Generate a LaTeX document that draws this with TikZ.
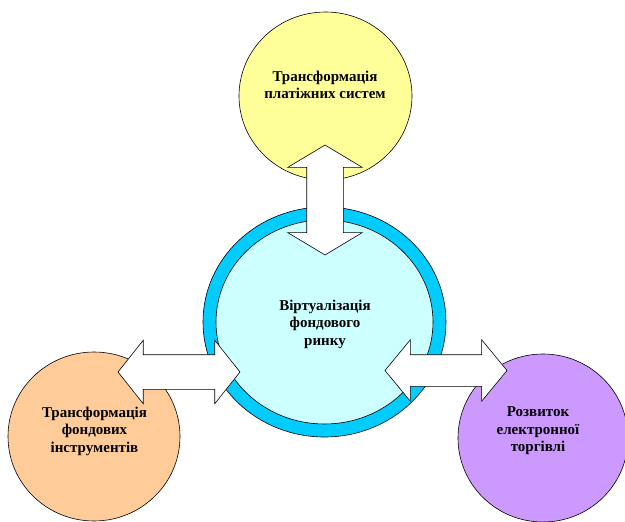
\documentclass[tikz,border=0pt]{standalone}
\usepackage{fontspec}
\setmainfont{Liberation Serif}
\usetikzlibrary{shapes.geometric,shapes.arrows}
\definecolor{payfill}{HTML}{FFFF99}
\definecolor{ringfill}{HTML}{00CCFF}
\definecolor{virtfill}{HTML}{CCFFFF}
\definecolor{instrfill}{HTML}{FFCC99}
\definecolor{tradefill}{HTML}{CC99FF}
\begin{document}
\begin{tikzpicture}[x=1pt,y=-1pt, blob/.style={ellipse,draw,line width=0.6pt,inner sep=0pt},
    txt/.style={align=center,font=\fontsize{15}{17.5}\selectfont\bfseries},
    dbl/.style={double arrow,draw,fill=white,line width=0.6pt,inner xsep=0pt}]
              \useasboundingbox (0,0) rectangle (625,522);
              % circles
              \node[blob,fill=payfill,minimum width=173pt,minimum height=168pt] (pay) at (325.5,96) {};
              \node[blob,fill=ringfill,minimum width=243pt,minimum height=230pt] (ring) at (324.5,322) {};
              \node[blob,fill=virtfill,minimum width=217pt,minimum height=204pt] (virt) at (324.5,322) {};
              \node[blob,fill=instrfill,minimum width=172pt,minimum height=169pt] (instr) at (94,436.5) {};
              \node[blob,fill=tradefill,minimum width=170pt,minimum height=168pt] (trade) at (543,438) {};

              \node[txt] (paytxt) at (325,85) {Трансформація\\платіжних систем};
              \node[txt] (virttxt) at (325,324) {Віртуалізація\\фондового\\ринку};
              \node[txt] (instrtxt) at (94.5,431) {Трансформація\\фондових\\інструментів};
              \node[txt] (tradetxt) at (538,431) {Розвиток\\електронної\\торгівлі};

              % arrows
              \node[dbl,inner ysep=18pt,minimum height=110pt,double arrow head extend=19pt,double arrow tip angle=118,rotate=90] (a1) at (325,200) {};
              \node[dbl,inner ysep=17pt,minimum height=122pt,double arrow head extend=14.5pt,double arrow tip angle=103] (a2) at (179,372) {};
              \node[dbl,inner ysep=15.5pt,minimum height=122pt,double arrow head extend=15pt,double arrow tip angle=101] (a3) at (446,370.5) {};
            \end{tikzpicture}
\end{document}
